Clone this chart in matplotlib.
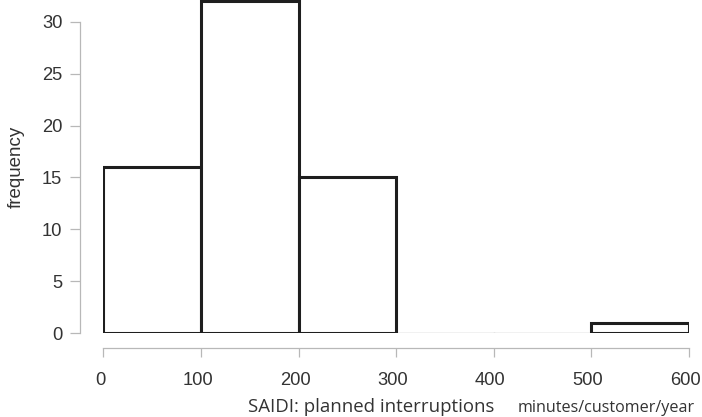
import matplotlib
matplotlib.use('Agg')
import matplotlib.pyplot as plt
import matplotlib.transforms as mtransforms
import numpy as np

# histogram bins and counts
bin_edges = [0, 100, 200, 300, 400, 500, 600]
counts = [16, 32, 15, 0, 0, 1]
x_ticks = [0, 100, 200, 300, 400, 500, 600]
y_ticks = [0, 5, 10, 15, 20, 25, 30]

plt.rcParams['font.family'] = ['Liberation Sans', 'DejaVu Sans']

W, H = 702, 417
fig = plt.figure(figsize=(W / 100, H / 100), dpi=100)
ax = fig.add_axes([103.4 / W, 84 / H, 585.6 / W, 333 / H])

lefts = np.array(bin_edges[:-1])
widths = np.diff(bin_edges)
for l, w, c in zip(lefts, widths, counts):
    if c > 0:
        ax.bar(l, c, width=w, align='edge', facecolor='white',
               edgecolor='#1e1e1e', linewidth=2.2, zorder=3)
    else:
        ax.plot([l, l + w], [0, 0], color='#b8b8b8', linewidth=1.0, zorder=2)

ax.set_xlim(0, 600)
ax.set_ylim(0, 32.12)

for s in ['top', 'right']:
    ax.spines[s].set_visible(False)
# outward offsets are in points (px * 0.72 at dpi 100)
ax.spines['left'].set_position(('outward', 23.4 * 0.72))
ax.spines['bottom'].set_position(('outward', 15 * 0.72))
ax.spines['left'].set_bounds(0, 30)
ax.spines['bottom'].set_bounds(0, 600)
for s in ['left', 'bottom']:
    ax.spines[s].set_color('#b8b8b8')
    ax.spines[s].set_linewidth(0.9)

ax.set_xticks(x_ticks)
ax.set_yticks(y_ticks)
ax.tick_params(axis='both', colors='#b8b8b8', labelcolor='#333333',
               labelsize=13.2, width=0.9)
ax.tick_params(axis='x', length=6.5, pad=10.5)
ax.tick_params(axis='y', length=7.2, pad=5.5)

# x labels in the picture sit a little left of their ticks
shift = mtransforms.ScaledTranslation(-3.5 / 100, 0, fig.dpi_scale_trans)
for lab in ax.get_xticklabels():
    lab.set_transform(lab.get_transform() + shift)

ax.set_ylabel('frequency', fontsize=13.5, color='#333333')
ax.yaxis.label.set_va('center')
ax.yaxis.set_label_coords(-87 / 585.6, 0.5)

t1 = fig.text(248 / W, 1 - 407 / H, 'SAIDI: planned interruptions', fontsize=13,
              family=['Open Sans', 'DejaVu Sans'], color='#333333',
              ha='left', va='center')
t2 = fig.text(695 / W, 1 - 408 / H, 'minutes/customer/year', fontsize=10,
              family=['Open Sans', 'DejaVu Sans'], color='#333333',
              ha='right', va='center')

# fit the two bottom labels to their widths in the picture
fig.canvas.draw()
r = fig.canvas.get_renderer()
for t, target in [(t1, 245), (t2, 177)]:
    wpx = t.get_window_extent(r).width
    t.set_fontsize(t.get_fontsize() * target / wpx)

fig.savefig('out.png', dpi=100)
